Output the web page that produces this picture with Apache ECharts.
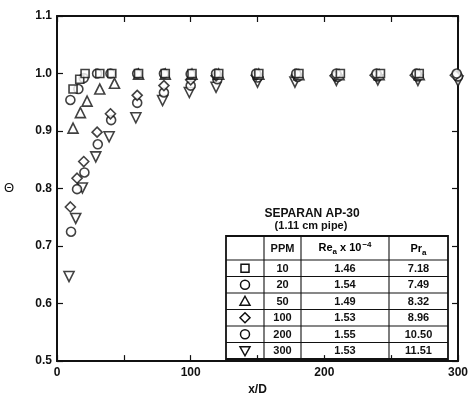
<!DOCTYPE html>
<html>
<head>
<meta charset="utf-8">
<script src="https://cdn.jsdelivr.net/npm/echarts@6/dist/echarts.min.js"></script>
<style>
  html, body { margin: 0; padding: 0; background: #fff; }
  #chart { width: 472px; height: 401px; }
</style>
</head>
<body>
<div id="chart"></div>
<script>
// Dimensionless temperature Θ versus x/D for SEPARAN AP-30 solutions
const ppm10  = [[12,0.973],[17,0.990],[21,1.0],[32,1.0],[41,1.0],[61,1.0],[81,1.0],[101,1.0],[121,1.0],[151,1.0],[181,1.0],[212,1.0],[242,1.0],[271,1.0],[301,1.0]];
const ppm20  = [[10,0.954],[16,0.973],[20,0.992],[30,1.0],[40,1.0],[60,1.0],[80,1.0],[100,0.999],[119,1.0],[149,1.0],[179,1.0],[209,1.0],[239,1.0],[269,1.0],[299,1.0]];
const ppm50  = [[12,0.905],[17.5,0.932],[22.5,0.952],[32,0.973],[43,0.983],[61,0.999],[81,0.999],[101,0.999],[121,0.999],[151,0.999],[181,0.998],[211,0.998],[241,0.998],[271,0.998],[301,0.998]];
const ppm100 = [[10,0.768],[15,0.818],[20,0.847],[30,0.898],[40,0.930],[60,0.962],[80,0.979],[100,0.989],[119,0.996],[149,0.997],[179,0.997],[208,0.996],[238,0.997],[268,0.997],[298,0.997]];
const ppm200 = [[10.5,0.725],[15,0.799],[20.5,0.828],[30.5,0.877],[40.5,0.919],[60,0.949],[80,0.967],[100,0.979],[120,0.990],[150,0.993],[180,0.994],[210,0.994],[240,0.995],[270,0.995],[300,0.995]];
const ppm300 = [[9,0.647],[14,0.748],[19,0.801],[29,0.855],[39,0.890],[59,0.923],[79,0.953],[99,0.967],[119,0.976],[150,0.985],[178,0.985],[209,0.988],[240,0.989],[270,0.988],[300,0.987]];

// Legend table contents
const tableTitle = 'SEPARAN AP-30';
const tableSubtitle = '(1.11 cm pipe)';
const ppmCol = ['10','20','50','100','200','300'];
const reCol  = ['1.46','1.54','1.49','1.53','1.55','1.53'];
const prCol  = ['7.18','7.49','8.32','8.96','10.50','11.51'];

const xTicks = [0, 100, 200, 300];
const yTicks = [0.5, 0.6, 0.7, 0.8, 0.9, 1.0, 1.1];

const FONT = 'Liberation Sans, Arial, sans-serif';
const INK = '#111';

function markerSeries(name, data, symbol, size, rotate) {
  return {
    name: name,
    type: 'scatter',
    data: data,
    symbol: symbol,
    symbolSize: size,
    symbolRotate: rotate || 0,
    itemStyle: { color: '#fff', borderColor: INK, borderWidth: 1.6 },
    emphasis: { disabled: true },
    silent: true
  };
}

function txt(text, x, y, size, weight) {
  return { type: 'text', style: { text: text, x: x, y: y, textAlign: 'center', textVerticalAlign: 'middle',
    font: (weight || 'bold') + ' ' + size + 'px ' + FONT, fill: INK } };
}

// Table layout
const colX = [226, 264, 301, 389, 448];
const rowY = [236, 260, 276.5, 293, 309.5, 326, 342.5, 359];
const graphics = [];
graphics.push(txt(tableTitle, 312, 214, 12));
graphics.push(txt(tableSubtitle, 311, 226, 11));
graphics.push({ type: 'rect', shape: { x: colX[0], y: rowY[0], width: colX[4] - colX[0], height: rowY[7] - rowY[0] }, style: { fill: '#fff', stroke: INK, lineWidth: 1.8 } });
for (let i = 1; i < 7; i++) {
  graphics.push({ type: 'line', shape: { x1: colX[0], y1: rowY[i], x2: colX[4], y2: rowY[i] }, style: { stroke: INK, lineWidth: 1.1 } });
}
for (let j = 1; j < 4; j++) {
  graphics.push({ type: 'line', shape: { x1: colX[j], y1: rowY[0], x2: colX[j], y2: rowY[7] }, style: { stroke: INK, lineWidth: 1.1 } });
}
const hy = (rowY[0] + rowY[1]) / 2;
const cx = [(colX[0] + colX[1]) / 2, (colX[1] + colX[2]) / 2, (colX[2] + colX[3]) / 2, (colX[3] + colX[4]) / 2];
graphics.push(txt('PPM', cx[1], hy + 1, 11));
graphics.push({ type: 'text', style: {
  text: '{b|Re}{s|a}{b| x 10}{p|−4}', x: cx[2], y: hy, textAlign: 'center', textVerticalAlign: 'middle',
  rich: {
    b: { fontSize: 11, fontWeight: 'bold', fontFamily: FONT, color: INK },
    s: { fontSize: 8, fontWeight: 'bold', fontFamily: FONT, color: INK, padding: [7, 0, 0, 0] },
    p: { fontSize: 8, fontWeight: 'bold', fontFamily: FONT, color: INK, padding: [0, 0, 7, 1] }
  }
} });
graphics.push({ type: 'text', style: {
  text: '{b|Pr}{s|a}', x: cx[3], y: hy + 1, textAlign: 'center', textVerticalAlign: 'middle',
  rich: {
    b: { fontSize: 11, fontWeight: 'bold', fontFamily: FONT, color: INK },
    s: { fontSize: 8, fontWeight: 'bold', fontFamily: FONT, color: INK, padding: [7, 0, 0, 0] }
  }
} });
const symStyle = { fill: '#fff', stroke: INK, lineWidth: 1.5 };
for (let i = 0; i < 6; i++) {
  const y = (rowY[i + 1] + rowY[i + 2]) / 2;
  const sx = cx[0];
  let shape;
  if (i === 0) shape = { type: 'rect', shape: { x: sx - 4, y: y - 4, width: 8, height: 8 }, style: symStyle };
  else if (i === 1 || i === 4) shape = { type: 'circle', shape: { cx: sx, cy: y, r: 4.5 }, style: symStyle };
  else if (i === 2) shape = { type: 'polygon', shape: { points: [[sx, y - 5], [sx + 5, y + 4], [sx - 5, y + 4]] }, style: symStyle };
  else if (i === 3) shape = { type: 'polygon', shape: { points: [[sx, y - 5], [sx + 5, y], [sx, y + 5], [sx - 5, y]] }, style: symStyle };
  else shape = { type: 'polygon', shape: { points: [[sx - 5, y - 4], [sx + 5, y - 4], [sx, y + 5]] }, style: symStyle };
  graphics.push(shape);
  graphics.push(txt(ppmCol[i], cx[1], y + 0.5, 11));
  graphics.push(txt(reCol[i], cx[2], y + 0.5, 11));
  graphics.push(txt(prCol[i], cx[3], y + 0.5, 11));
}

const axisLine = { show: true, onZero: false, lineStyle: { color: INK, width: 2 } };
const tickIn = { show: true, inside: true, length: 6, lineStyle: { color: INK, width: 1.2 } };
const labelFont = { color: INK, fontFamily: FONT, fontSize: 12, fontWeight: 'bold' };

const chart = echarts.init(document.getElementById('chart'), null, { renderer: 'canvas' });
chart.setOption({
  animation: false,
  backgroundColor: '#fff',
  grid: { left: 57, right: 14, top: 16, bottom: 32, containLabel: false },
  xAxis: [{
    type: 'value', min: 0, max: 300, interval: 50, position: 'bottom',
    axisLine: axisLine, axisTick: tickIn, splitLine: { show: false },
    axisLabel: Object.assign({ margin: 6, formatter: v => (xTicks.indexOf(v) >= 0 ? String(v) : '') }, labelFont),
    name: 'x/D', nameLocation: 'middle', nameGap: 22,
    nameTextStyle: labelFont
  }, {
    type: 'value', min: 0, max: 300, interval: 50, position: 'top',
    axisLine: axisLine, axisTick: tickIn, splitLine: { show: false }, axisLabel: { show: false }
  }],
  yAxis: [{
    type: 'value', min: 0.5, max: 1.1, interval: 0.1, position: 'left',
    axisLine: axisLine, axisTick: tickIn, splitLine: { show: false },
    axisLabel: Object.assign({ margin: 5, formatter: v => yTicks.find(t => Math.abs(t - v) < 1e-6).toFixed(1) }, labelFont),
    name: 'Θ', nameLocation: 'middle', nameGap: 43, nameRotate: 0,
    nameTextStyle: { color: INK, fontFamily: FONT, fontSize: 13 }
  }, {
    type: 'value', min: 0.5, max: 1.1, interval: 0.1, position: 'right',
    axisLine: axisLine, axisTick: tickIn, splitLine: { show: false }, axisLabel: { show: false }
  }],
  series: [
    markerSeries('300', ppm300, 'triangle', 10, 180),
    markerSeries('200', ppm200, 'circle', 9),
    markerSeries('100', ppm100, 'diamond', 10),
    markerSeries('50', ppm50, 'triangle', 10),
    markerSeries('20', ppm20, 'circle', 9),
    markerSeries('10', ppm10, 'rect', 8)
  ],
  graphic: graphics
});
</script>
</body>
</html>
